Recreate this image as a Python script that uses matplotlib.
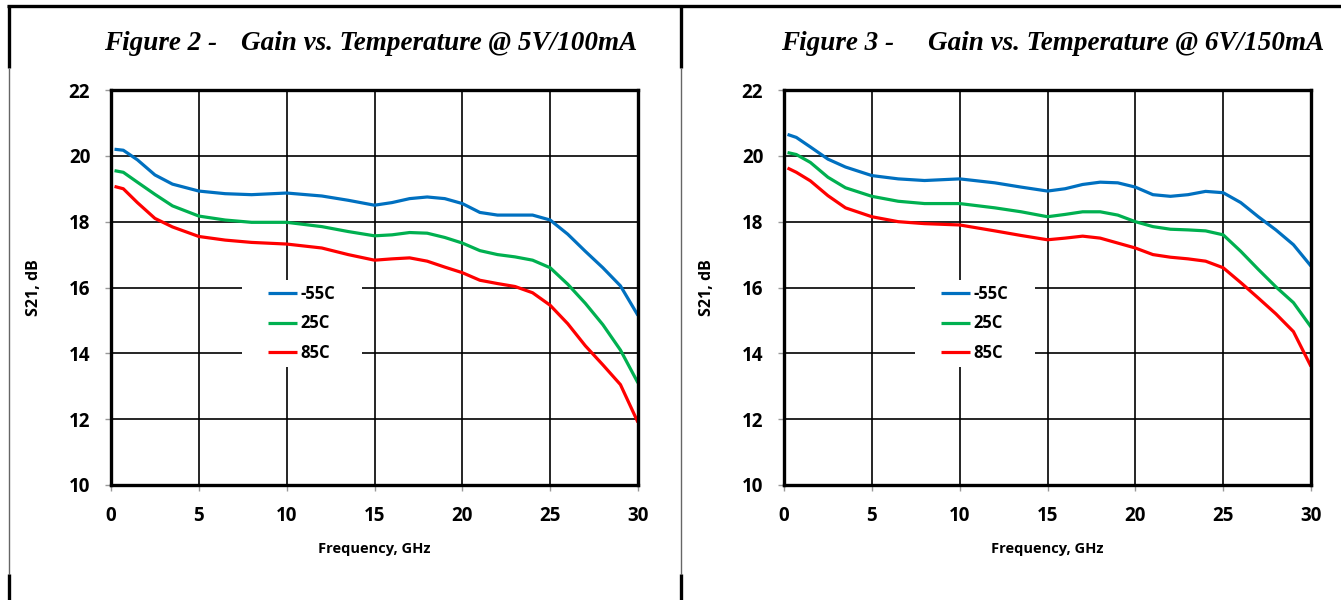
import matplotlib
matplotlib.use("Agg")
import matplotlib.pyplot as plt
from matplotlib.lines import Line2D
from matplotlib.patches import Rectangle

plt.rcParams['font.family'] = ['Open Sans', 'DejaVu Sans']

# ---------------- data ----------------
freq_ghz = [0.2, 0.7, 1.5, 2.5, 3.5, 5, 6.5, 8, 10, 12, 13.5, 15, 16, 17, 18, 19,
            20, 21, 22, 23, 24, 25, 26, 27, 28, 29, 30]

# Figure 2: 5V/100mA
fig2_m55 = [20.20, 20.17, 19.88, 19.42, 19.14, 18.93, 18.85, 18.82, 18.87, 18.78, 18.65,
            18.50, 18.58, 18.70, 18.75, 18.70, 18.55, 18.28, 18.20, 18.20, 18.20, 18.05,
            17.62, 17.10, 16.60, 16.05, 15.15]
fig2_25 = [19.55, 19.50, 19.20, 18.83, 18.48, 18.17, 18.05, 17.98, 17.98, 17.85, 17.70,
           17.57, 17.60, 17.67, 17.65, 17.52, 17.35, 17.12, 17.00, 16.93, 16.83, 16.60,
           16.10, 15.52, 14.87, 14.10, 13.10]
fig2_85 = [19.07, 19.00, 18.58, 18.10, 17.84, 17.55, 17.44, 17.37, 17.32, 17.20, 17.00,
           16.83, 16.87, 16.90, 16.80, 16.62, 16.45, 16.22, 16.12, 16.03, 15.84, 15.46,
           14.90, 14.23, 13.65, 13.05, 11.90]

# Figure 3: 6V/150mA
fig3_m55 = [20.65, 20.56, 20.27, 19.90, 19.66, 19.40, 19.30, 19.25, 19.30, 19.18, 19.05,
            18.93, 19.00, 19.13, 19.20, 19.18, 19.05, 18.82, 18.77, 18.82, 18.92, 18.88,
            18.58, 18.15, 17.75, 17.30, 16.65]
fig3_25 = [20.10, 20.04, 19.80, 19.35, 19.03, 18.77, 18.62, 18.55, 18.55, 18.42, 18.30,
           18.15, 18.22, 18.30, 18.30, 18.20, 18.00, 17.85, 17.77, 17.75, 17.72, 17.60,
           17.10, 16.55, 16.02, 15.54, 14.80]
fig3_85 = [19.63, 19.50, 19.24, 18.79, 18.42, 18.15, 18.00, 17.94, 17.90, 17.72, 17.58,
           17.45, 17.50, 17.56, 17.50, 17.35, 17.20, 17.00, 16.92, 16.87, 16.80, 16.60,
           16.15, 15.68, 15.20, 14.66, 13.60]

series_labels = ['-55C', '25C', '85C']
series_colors = ['#0070C0', '#00B050', '#FF0000']
x_ticks = [0, 5, 10, 15, 20, 25, 30]
y_ticks = [10, 12, 14, 16, 18, 20, 22]
titles_left = ['Figure 2 -', 'Figure 3 -']
titles_right = ['Gain vs. Temperature @ 5V/100mA', 'Gain vs. Temperature @ 6V/150mA']
x_label = 'Frequency, GHz'
y_label = 'S21, dB'

# ---------------- figure ----------------
W, H = 1341, 600
fig = plt.figure(figsize=(W / 100, H / 100), dpi=100)


def fx(px):
    return px / W


def fy(py):
    return 1 - py / H


def style_axes(ax):
    ax.set_xlim(0, 30)
    ax.set_ylim(10, 22)
    ax.set_xticks(x_ticks)
    ax.set_yticks(y_ticks)
    ax.grid(True, color='black', linewidth=1.2, zorder=1)
    ax.set_axisbelow(True)
    for sp in ax.spines.values():
        sp.set_linewidth(2.4)
        sp.set_color('black')
        sp.set_zorder(5)
    ax.tick_params(axis='both', direction='out', length=4, width=1, color='#999999',
                   labelsize=13.5)
    ax.tick_params(axis='y', pad=11)
    ax.tick_params(axis='x', pad=11)
    for lab in ax.get_xticklabels() + ax.get_yticklabels():
        lab.set_fontweight('bold')
    ax.set_xlabel(x_label, fontsize=10.5, fontweight='bold', labelpad=12)
    ax.set_ylabel(y_label, fontsize=11.5, fontweight='bold', labelpad=19)


panels = [
    (111, [fig2_m55, fig2_25, fig2_85]),
    (784, [fig3_m55, fig3_25, fig3_85]),
]
title_pos = [(104, 637), (781, 1324)]

for i, (left_px, data) in enumerate(panels):
    ax = fig.add_axes([fx(left_px), fy(485), 527 / W, 395 / H])
    style_axes(ax)
    ax.add_patch(Rectangle((0.249, 0.299), 0.227, 0.22, transform=ax.transAxes,
                           facecolor='white', edgecolor='none', zorder=1.8))
    for vals, lab, col in zip(data, series_labels, series_colors):
        ax.plot(freq_ghz, vals, color=col, linewidth=2.3, label=lab, zorder=3,
                solid_capstyle='butt', solid_joinstyle='round')
    leg = ax.legend(loc='upper left', bbox_to_anchor=(0.298, 0.506), frameon=False,
                    borderaxespad=0, borderpad=0, handlelength=1.75, handletextpad=0.2,
                    labelspacing=0.68, prop={'family': ['Open Sans', 'DejaVu Sans'],
                                             'weight': 'bold', 'size': 12})
    leg.set_zorder(4)

    lx, rx = title_pos[i]
    fig.text(fx(lx), fy(50), titles_left[i], ha='left', va='baseline',
             family='Liberation Serif', style='italic', weight='bold', fontsize=19.5)
    fig.text(fx(rx), fy(50), titles_right[i], ha='right', va='baseline',
             family='Liberation Serif', style='italic', weight='bold', fontsize=19.5)

# page frame lines
def line(x0, y0, x1, y1, lw, color):
    fig.add_artist(Line2D([fx(x0), fx(x1)], [fy(y0), fy(y1)], color=color, linewidth=lw,
                          solid_capstyle='butt'))

line(7, 6, W, 6, 2.4, 'black')
for xv in (9, 681):
    line(xv, 5, xv, 68, 2.4, 'black')
    line(xv, 68, xv, 574, 1.0, '#666666')
    line(xv, 574, xv, 600, 2.4, 'black')

fig.savefig('out.png', dpi=100)
